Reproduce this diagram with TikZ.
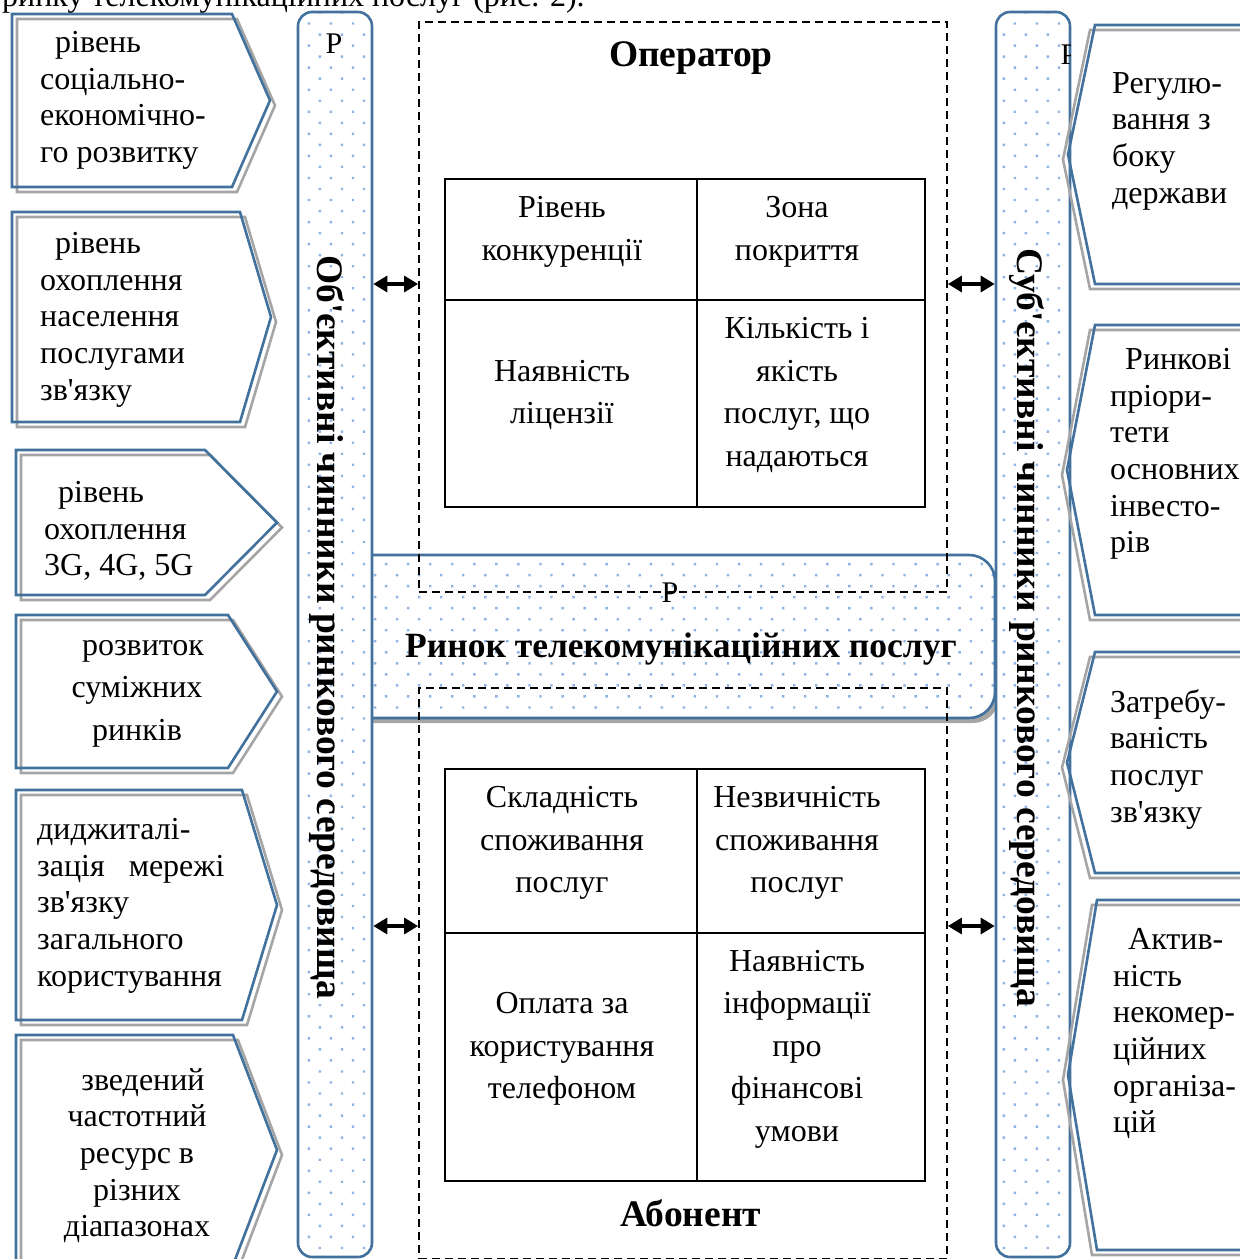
\documentclass[tikz,border=0pt]{standalone}
\usepackage{fontspec}
\setmainfont{Liberation Serif}[Ligatures=TeXOff]
\usetikzlibrary{arrows.meta, patterns.meta, shadows}
\definecolor{FrameBlue}{HTML}{41719C}
\definecolor{DotBlue}{HTML}{8EB4E3}
\definecolor{ShadeGray}{HTML}{A5A5A5}

\newcommand{\sidefont}{\fontsize{32}{36.7}\selectfont}
\newcommand{\widefont}{\fontsize{32}{42.5}\selectfont}
\newcommand{\headfont}{\fontsize{37.5}{42}\selectfont\bfseries}
\newcommand{\barfont}{\fontsize{37.5}{42}\selectfont\bfseries}
\newcommand{\bandfont}{\fontsize{35.5}{40}\selectfont\bfseries}
\newcommand{\pfont}{\fontsize{30}{34}\selectfont}

% right-pointing factor on the left: left x, top y, bottom y, edge x, tip x
\newcommand{\leftfactor}[5]{%
  \draw[sigshade, shift={(5,5)}] (#1,#2) -- (#4,#2) -- (#5,{(#2+#3)/2}) -- (#4,#3) -- (#1,#3) -- cycle;
  \draw[sigframe] (#1,#2) -- (#4,#2) -- (#5,{(#2+#3)/2}) -- (#4,#3) -- (#1,#3) -- cycle;}
% left-pointing factor on the right: top y, bottom y, edge x, tip x
\newcommand{\rightfactor}[4]{%
  \draw[sigshade, shift={(-5,5)}] (1265,#1) -- (#3,#1) -- (#4,{(#1+#2)/2}) -- (#3,#2) -- (1265,#2);
  \draw[sigframe] (1265,#1) -- (#3,#1) -- (#4,{(#1+#2)/2}) -- (#3,#2) -- (1265,#2);}

\tikzset{
  dotfill/.style={preaction={fill=white}, pattern={Dots[distance=15.6pt, angle=45, radius=1.7pt]}, pattern color=DotBlue},
  factorbar/.style={dotfill, draw=FrameBlue, line width=2.6pt, rounded corners=14pt, inner sep=0},
  bandbox/.style={drop shadow={shadow xshift=4pt, shadow yshift=-5pt, fill=ShadeGray, opacity=1},
    dotfill, draw=FrameBlue, line width=2.6pt, rounded corners=26pt, inner sep=0},
  dashbox/.style={draw=black, dash pattern=on 8pt off 5pt, line width=1.8pt, inner sep=0},
  tablegrid/.style={draw=black, line width=2.4pt},
  cell/.style={font=\widefont, align=center, inner sep=0},
  sidetext/.style={anchor=north west, inner sep=0, align=left, font=\sidefont, execute at begin node=\strut},
  sidemid/.style={anchor=north, inner sep=0, align=center, font=\sidefont, execute at begin node=\strut},
  headtext/.style={font=\headfont, inner sep=0},
  bartext/.style={font=\barfont, inner sep=0, rotate=-90},
  plabel/.style={font=\pfont, inner sep=0},
  sigframe/.style={draw=FrameBlue, line width=2.6pt},
  sigshade/.style={draw=ShadeGray, line width=2.6pt},
  dblarrow/.style={{Triangle[length=14pt,width=16pt]}-{Triangle[length=14pt,width=16pt]}, line width=3.2pt}
}

\begin{document}
\begin{tikzpicture}[x=1pt, y=-1pt]
    \useasboundingbox (0,0) rectangle (1240,1259);

    % Caption line cut by the top edge
    \node[anchor=base west, inner sep=0, font=\sidefont] (caption) at (2,6) {ринку телекомунікаційних послуг (рис. 2).};

    % Market band and the two factor bars
    \node[bandbox, minimum width=655, minimum height=163] (band) at (667.5,636.5) {};
    \node[factorbar, minimum width=74, minimum height=1245] (objbar) at (335,634.5) {};
    \node[factorbar, minimum width=74, minimum height=1245] (subjbar) at (1033,634.5) {};

    \node[plabel] (objp) at (334,44) {Р};
    \begin{scope}
        \clip (996,12) rectangle (1070,1257);
        \node[plabel] (subjp) at (1069,55) {Р};
    \end{scope}
    \node[bartext] (objtext) at (327,627) {Об'єктивні чинники ринкового середовища};
    \node[bartext] (subjtext) at (1027,627.5) {Суб'єктивні чинники ринкового середовища};

    % Operator and subscriber frames
    \node[dashbox, minimum width=528, minimum height=570] (opbox) at (683,307) {};
    \node[dashbox, minimum width=528, minimum height=571] (abbox) at (683,973.5) {};

    \node[plabel] (bandp) at (670,593) {Р};
    \node[font=\bandfont, inner sep=0] (bandtext) at (681,649) {Ринок телекомунікаційних послуг};
    \node[headtext] (optitle) at (691,58) {Оператор};
    \node[headtext] (abtitle) at (691,1213) {Абонент};

    % Operator table
    \draw[tablegrid] (445,179) rectangle (925,507) (697,179) -- (697,507) (445,300) -- (925,300);
    \node[cell] (op1) at (562,232) {Рівень\\конкуренції};
    \node[cell] (op2) at (797,232) {Зона\\покриття};
    \node[cell] (op3) at (562,395) {Наявність\\ліцензії};
    \node[cell] (op4) at (797,395) {Кількість і\\якість\\послуг, що\\надаються};

    % Subscriber table
    \draw[tablegrid] (445,769) rectangle (925,1181) (697,769) -- (697,1181) (445,933) -- (925,933);
    \node[cell] (ab1) at (562,843) {Складність\\споживання\\послуг};
    \node[cell] (ab2) at (797,843) {Незвичність\\споживання\\послуг};
    \node[cell] (ab3) at (562,1049) {Оплата за\\користування\\телефоном};
    \node[cell] (ab4) at (797,1049) {Наявність\\інформації\\про\\фінансові\\умови};

    % Links between bars and frames
    \coordinate (row1) at (0,284);
    \coordinate (row2) at (0,926);
    \draw[dblarrow] (objbar.east |- row1) -- (opbox.west |- row1);
    \draw[dblarrow] (objbar.east |- row2) -- (abbox.west |- row2);
    \draw[dblarrow] (opbox.east |- row1) -- (subjbar.west |- row1);
    \draw[dblarrow] (abbox.east |- row2) -- (subjbar.west |- row2);

    % Objective factors
    \leftfactor{12}{14}{187}{232}{270}
    \leftfactor{12}{212}{422}{240}{271}
    \leftfactor{16}{450}{595}{205}{277}
    \leftfactor{16}{615}{768}{228}{277}
    \leftfactor{16}{790}{1020}{242}{277}
    \leftfactor{16}{1035}{1265}{233}{277}
    \node[sidetext] (obj1) at (40,31) {\hspace*{15pt}рівень\\соціально-\\економічно-\\го розвитку};
    \node[sidetext] (obj2) at (40,232) {\hspace*{15pt}рівень\\охоплення\\населення\\послугами\\зв'язку};
    \node[sidetext] (obj3) at (44,481) {\hspace*{14pt}рівень\\охоплення\\3G, 4G, 5G};
    \node[sidemid, font=\widefont] (obj4) at (137,640) {\hspace*{12pt}розвиток\\суміжних\\ринків};
    \node[sidetext] (obj5) at (37,818) {диджиталі-\\зація\hspace{0.5em} мережі\\зв'язку\\загального\\користування};
    \node[sidemid] (obj6) at (137,1068) {\hspace*{12pt}зведений\\частотний\\ресурс в\\різних\\діапазонах};

    % Subjective factors
    \rightfactor{25}{284}{1095}{1068}
    \rightfactor{325}{615}{1095}{1067}
    \rightfactor{652}{873}{1095}{1067}
    \rightfactor{900}{1250}{1097}{1068}
    \node[sidetext] (subj1) at (1112,72) {Регулю-\\вання з\\боку\\держави};
    \node[sidetext] (subj2) at (1110,348) {\hspace*{15pt}Ринкові\\пріори-\\тети\\основних\\інвесто-\\рів};
    \node[sidetext] (subj3) at (1110,689) {Затребу-\\ваність\\послуг\\зв'язку};
    \node[sidetext] (subj4) at (1113,928) {\hspace*{15pt}Актив-\\ність\\некомер-\\ційних\\організа-\\цій};
\end{tikzpicture}
\end{document}
